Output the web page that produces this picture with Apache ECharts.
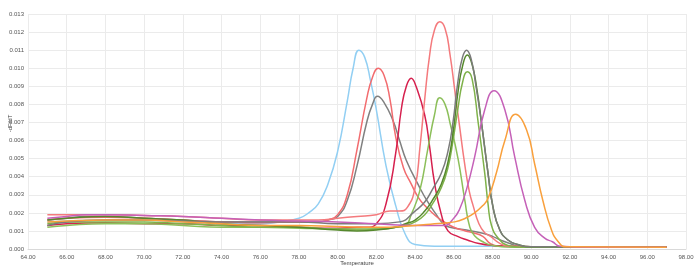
<!DOCTYPE html>
<html>
<head>
<meta charset="utf-8">
<script src="https://cdn.jsdelivr.net/npm/echarts@6/dist/echarts.min.js"></script>
<style>html,body{margin:0;padding:0;background:#fff;}#c{width:700px;height:269px;}</style>
</head>
<body>
<div id="c"></div>
<script>
// Axis settings
const xTicks = [64,66,68,70,72,74,76,78,80,82,84,86,88,90,92,94,96,98];
const yTicks = [0,0.001,0.002,0.003,0.004,0.005,0.006,0.007,0.008,0.009,0.010,0.011,0.012,0.013];
const xName = 'Temperature';
const yName = '-dF/dT';

// Melt curves: [temperature, -dF/dT]
const blue = [[65,0.0015],[66,0.00155],[68,0.0016],[70,0.0016],[72,0.0015],[74,0.0014],[76,0.0014],[77,0.0015],[78,0.0017],[78.5,0.0020],[79,0.0025],[79.5,0.0036],[80,0.0054],[80.5,0.0082],[80.8,0.0100],[81.1,0.0110],[81.4,0.0106],[81.7,0.0093],[82,0.0077],[82.5,0.0046],[83,0.0024],[83.5,0.0008],[84,0.00025],[85,0.00015],[88,0.00015],[92,0.0001],[97,0.0001]];
const red1 = [[65,0.0016],[66,0.0017],[68,0.00175],[70,0.0017],[72,0.0016],[74,0.0015],[76,0.00145],[78,0.0015],[79,0.0015],[79.5,0.0016],[80,0.0019],[80.5,0.0030],[81,0.0055],[81.5,0.0083],[81.8,0.0095],[82.1,0.0100],[82.4,0.0096],[82.7,0.0083],[83,0.0062],[83.4,0.0045],[83.8,0.0036],[84.2,0.0028],[84.6,0.0023],[85.1,0.0018],[85.5,0.0015],[86,0.0012],[86.6,0.0010],[87,0.0009],[87.5,0.0007],[87.9,0.0003],[88.5,0.00015],[92,0.0001],[97,0.0001]];
const gray1 = [[65,0.0016],[66,0.0017],[67,0.0018],[68,0.0018],[70,0.0017],[72,0.0016],[74,0.0015],[76,0.0015],[78,0.0015],[79,0.0015],[79.5,0.0016],[80,0.0018],[80.5,0.0027],[81,0.0046],[81.5,0.0070],[81.8,0.0080],[82.06,0.00845],[82.4,0.0081],[82.86,0.0071],[83.2,0.0060],[83.55,0.0049],[84.24,0.0034],[84.6,0.0027],[85.1,0.0019],[85.45,0.0014],[85.8,0.0012],[86.66,0.00105],[87.5,0.00087],[88,0.0007],[88.4,0.0005],[88.9,0.0003],[89.5,0.00012],[92,0.0001],[97,0.0001]];
const crimson = [[65,0.0013],[66,0.0014],[68,0.00145],[70,0.0014],[72,0.0014],[74,0.0013],[76,0.0013],[78,0.0012],[80,0.00115],[81,0.0012],[81.5,0.0012],[82,0.0014],[82.5,0.0025],[83,0.0053],[83.3,0.0078],[83.55,0.0090],[83.8,0.00945],[84.05,0.0090],[84.5,0.0074],[84.76,0.0056],[85,0.0037],[85.36,0.0019],[85.7,0.0010],[86.2,0.0007],[86.7,0.0005],[87.3,0.0003],[88,0.0002],[90,0.00012],[97,0.0001]];
const red2 = [[65,0.0019],[66,0.0019],[68,0.0019],[70,0.00185],[72,0.0018],[74,0.0017],[76,0.0016],[78,0.0016],[79,0.0016],[80,0.0017],[81,0.0018],[82,0.0019],[82.7,0.0021],[83.2,0.0021],[83.6,0.0023],[84,0.0034],[84.25,0.0056],[84.5,0.0083],[84.75,0.0107],[85,0.0121],[85.28,0.01257],[85.55,0.0122],[85.8,0.0108],[86.05,0.0088],[86.3,0.0068],[86.55,0.0048],[86.8,0.0032],[87,0.0024],[87.3,0.0014],[87.6,0.0009],[87.9,0.0007],[88.4,0.0003],[89,0.00015],[92,0.0001],[97,0.0001]];
const lightGreen = [[65,0.0012],[66,0.0013],[68,0.0014],[70,0.0014],[72,0.0013],[74,0.0012],[76,0.0012],[78,0.00115],[80,0.0011],[81,0.00105],[82,0.0011],[83,0.0012],[83.5,0.0013],[83.8,0.0019],[84.24,0.0032],[84.67,0.0056],[85,0.0074],[85.28,0.00837],[85.55,0.0080],[85.8,0.0070],[86.22,0.0050],[86.57,0.0027],[86.83,0.0012],[87.1,0.0007],[87.5,0.0004],[88,0.0002],[89,0.0001],[97,0.0001]];
const gray2 = [[65,0.0013],[66,0.0015],[68,0.0016],[70,0.0016],[72,0.00155],[74,0.0015],[76,0.0015],[78,0.0015],[80,0.0014],[82,0.0014],[83.2,0.0015],[84,0.0021],[84.5,0.0026],[84.9,0.0033],[85.36,0.0042],[85.7,0.0054],[85.96,0.0070],[86.22,0.0093],[86.45,0.0106],[86.66,0.0110],[86.9,0.0105],[87.15,0.0090],[87.43,0.0070],[87.77,0.0042],[88.03,0.0023],[88.38,0.00105],[88.8,0.0005],[89.3,0.00025],[90,0.00012],[97,0.0001]];
const green1 = [[65,0.0016],[66,0.0017],[68,0.0018],[70,0.0017],[72,0.0016],[74,0.0014],[76,0.0013],[78,0.0012],[80,0.00105],[81,0.0010],[82,0.00105],[83,0.0012],[83.5,0.0014],[84,0.0016],[84.5,0.0021],[84.9,0.0027],[85.36,0.0036],[85.7,0.0048],[85.96,0.0064],[86.22,0.0087],[86.45,0.0101],[86.7,0.01073],[86.95,0.0102],[87.2,0.0088],[87.43,0.0070],[87.77,0.0042],[88.03,0.0023],[88.38,0.00105],[88.8,0.0005],[89.3,0.00025],[90,0.00012],[97,0.0001]];
const green2 = [[65,0.0014],[66,0.0015],[68,0.0015],[70,0.0015],[72,0.0014],[74,0.0013],[76,0.0012],[78,0.0012],[80,0.0011],[82,0.0011],[83,0.0012],[83.5,0.0013],[84,0.0015],[84.5,0.0019],[84.9,0.0025],[85.36,0.0034],[85.7,0.0045],[85.96,0.0060],[86.22,0.0078],[86.45,0.0092],[86.7,0.0098],[86.95,0.0094],[87.26,0.0070],[87.6,0.0042],[87.77,0.0025],[87.95,0.0013],[88.3,0.0006],[88.8,0.0002],[89.5,0.0001],[97,0.0001]];
const purple = [[65,0.0017],[66,0.0018],[67,0.0019],[68,0.0019],[70,0.00185],[72,0.0018],[74,0.0017],[76,0.0016],[78,0.00155],[80,0.0015],[82,0.0014],[84,0.0013],[85,0.0013],[85.5,0.0013],[86,0.0017],[86.3,0.0022],[86.66,0.0033],[87.08,0.0051],[87.6,0.0077],[88.08,0.00876],[88.64,0.0077],[89.15,0.0051],[89.67,0.0027],[90.18,0.0012],[90.7,0.0006],[91.1,0.0004],[91.5,0.00015],[93,0.0001],[97,0.0001]];
const orange = [[65,0.0015],[66,0.00155],[68,0.0016],[70,0.0016],[72,0.0015],[74,0.0014],[76,0.0013],[78,0.0013],[80,0.00125],[82,0.0012],[84,0.0013],[85,0.0014],[86.05,0.0015],[86.6,0.0017],[87.08,0.0020],[87.5,0.0024],[87.77,0.0028],[88.2,0.0042],[88.64,0.0060],[89.2,0.00745],[89.76,0.0066],[90.18,0.0047],[90.6,0.0027],[91.05,0.00105],[91.4,0.0004],[91.8,0.00012],[97,0.0001]];

const curves = [
  {data: blue, color: '#92cff3'},
  {data: gray1, color: '#808080'},
  {data: red1, color: '#f26c6f'},
  {data: crimson, color: '#d6204e'},
  {data: lightGreen, color: '#8cbf5a'},
  {data: red2, color: '#f47a7d'},
  {data: green2, color: '#7fb24a'},
  {data: green1, color: '#55882c'},
  {data: gray2, color: '#7b7b7b'},
  {data: purple, color: '#c561b8'},
  {data: orange, color: '#f9a03c'}
];

const chart = echarts.init(document.getElementById('c'), null, {renderer: 'canvas'});
const font = 'Liberation Sans, Arial, sans-serif';
const labelStyle = {fontSize: 6, color: '#555', fontFamily: font};
chart.setOption({
  animation: false,
  grid: {left: 28, right: 14, top: 14, bottom: 20, containLabel: false, outerBoundsMode: 'none'},
  xAxis: {
    type: 'value', min: xTicks[0], max: xTicks[xTicks.length-1], interval: 2,
    name: xName, nameLocation: 'middle', nameGap: 11, nameMoveOverlap: false,
    nameTextStyle: {fontSize: 6, color: '#444', fontFamily: font},
    axisLine: {show: true, lineStyle: {color: '#d9d9d9'}},
    axisTick: {show: false},
    axisLabel: Object.assign({margin: 5, formatter: v => v.toFixed(2)}, labelStyle),
    splitLine: {show: true, lineStyle: {color: '#ebebeb', width: 1}}
  },
  yAxis: {
    type: 'value', min: yTicks[0], max: yTicks[yTicks.length-1], interval: 0.001,
    name: yName, nameLocation: 'middle', nameGap: 15, nameRotate: 90, nameMoveOverlap: false,
    nameTextStyle: {fontSize: 6, color: '#444', fontFamily: font, padding: [0, 0, 0, 16]},
    axisLine: {show: false},
    axisTick: {show: false},
    axisLabel: Object.assign({margin: 4, formatter: v => v.toFixed(3)}, labelStyle),
    splitLine: {show: true, lineStyle: {color: '#ebebeb', width: 1}}
  },
  series: curves.map(c => ({
    type: 'line', data: c.data, smooth: 0.5, showSymbol: false,
    lineStyle: {color: c.color, width: 1.5}, itemStyle: {color: c.color}
  }))
});
</script>
</body>
</html>
